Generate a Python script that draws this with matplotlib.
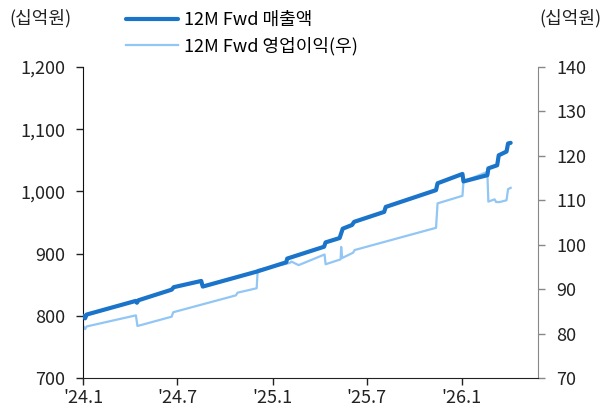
import matplotlib
matplotlib.use("Agg")
import matplotlib.pyplot as plt
import pandas as pd

plt.rcParams['font.family'] = ['Noto Sans CJK KR', 'DejaVu Sans']

# 12M forward revenue (left axis, 십억원)
sales_dates = ["2024-01-02", "2024-01-05", "2024-01-08", "2024-04-12", "2024-04-14", "2024-04-17",
               "2024-06-20", "2024-06-24", "2024-08-16", "2024-08-19", "2024-12-01", "2025-01-27",
               "2025-01-29", "2025-04-10", "2025-04-13", "2025-05-10", "2025-05-16", "2025-06-03",
               "2025-06-07", "2025-08-04", "2025-08-07", "2025-11-12", "2025-11-15", "2026-01-02",
               "2026-01-04", "2026-02-19", "2026-02-21", "2026-03-10", "2026-03-13", "2026-03-28",
               "2026-03-31", "2026-04-05"]
sales_vals = [800, 796, 802, 824, 821, 825,
              842, 846, 856, 847, 871, 886,
              892, 911, 918, 925, 940, 946,
              951, 967, 975, 1002, 1013, 1028,
              1016, 1026, 1037, 1042, 1058, 1064,
              1077, 1078]

# 12M forward operating profit (right axis, 십억원)
op_dates = ["2024-01-02", "2024-01-05", "2024-01-08", "2024-04-12", "2024-04-15", "2024-06-20",
            "2024-06-23", "2024-10-22", "2024-10-25", "2024-12-01", "2024-12-03", "2025-02-03",
            "2025-02-06", "2025-02-20", "2025-04-11", "2025-04-13", "2025-05-12", "2025-05-13",
            "2025-05-15", "2025-06-05", "2025-06-08", "2025-11-12", "2025-11-15", "2026-01-02",
            "2026-01-04", "2026-02-19", "2026-02-21", "2026-03-05", "2026-03-08", "2026-03-15",
            "2026-03-28", "2026-03-31", "2026-04-05"]
op_vals = [81.6, 81.0, 81.6, 84.1, 81.7, 83.8,
           84.8, 88.6, 89.2, 90.2, 94.3, 95.9,
           96.2, 95.4, 97.8, 95.6, 96.7, 99.5,
           97.0, 98.2, 98.8, 103.8, 109.3, 111.0,
           114.2, 116.4, 109.7, 110.2, 109.6, 109.6,
           110.0, 112.5, 112.8]

tick_dates = ["2024-01-01", "2024-07-01", "2025-01-01", "2025-07-01", "2026-01-01"]
tick_labels = ["'24.1", "'24.7", "'25.1", "'25.7", "'26.1"]

dark = "#1a74c9"
light = "#91c6f5"

fig = plt.figure(figsize=(6.06, 4.12), dpi=100)
ax = fig.add_axes([0.137, 0.0825, 0.751, 0.755])
ax2 = ax.twinx()

l1, = ax.plot(pd.to_datetime(sales_dates), sales_vals, color=dark, lw=3.0,
              solid_capstyle='round', solid_joinstyle='round', label="12M Fwd 매출액", zorder=3)
l2, = ax2.plot(pd.to_datetime(op_dates), op_vals, color=light, lw=1.6,
               solid_joinstyle='round', label="12M Fwd 영업이익(우)", zorder=2)
ax.set_zorder(ax2.get_zorder() + 1)
ax.patch.set_visible(False)

ax.set_xlim(pd.Timestamp("2024-01-01"), pd.Timestamp("2026-05-28"))
ax.set_ylim(700, 1200)
ax2.set_ylim(70, 140)
ax.set_yticks(range(700, 1201, 100))
ax.set_yticklabels([f"{v:,}" for v in range(700, 1201, 100)])
ax2.set_yticks(range(70, 141, 10))
ax.set_xticks(pd.to_datetime(tick_dates))
ax.set_xticklabels(tick_labels)

fs = 13
for a in (ax, ax2):
    a.tick_params(labelsize=fs, colors="#222222", length=5, width=1)
    a.spines['top'].set_visible(False)
ax.tick_params(axis='y', pad=8)
ax2.tick_params(axis='y', pad=8, color="#888888")
ax.tick_params(axis='x', pad=3)
ax.spines['right'].set_visible(False)
ax2.spines['left'].set_visible(False)
ax2.spines['bottom'].set_visible(False)
ax2.spines['right'].set_color("#888888")
ax.spines['left'].set_color("#111111")
ax.spines['bottom'].set_color("#222222")

fig.text(0.015, 0.955, "(십억원)", fontsize=fs, ha='left', va='center', color="#222222")
fig.text(0.992, 0.955, "(십억원)", fontsize=fs, ha='right', va='center', color="#222222")

fig.legend(handles=[l1, l2], loc='upper left', bbox_to_anchor=(0.19, 1.0),
           frameon=False, fontsize=fs, handlelength=2.9, labelspacing=0.45,
           handletextpad=0.3, borderaxespad=0.2)

fig.savefig("out.png", dpi=100)
